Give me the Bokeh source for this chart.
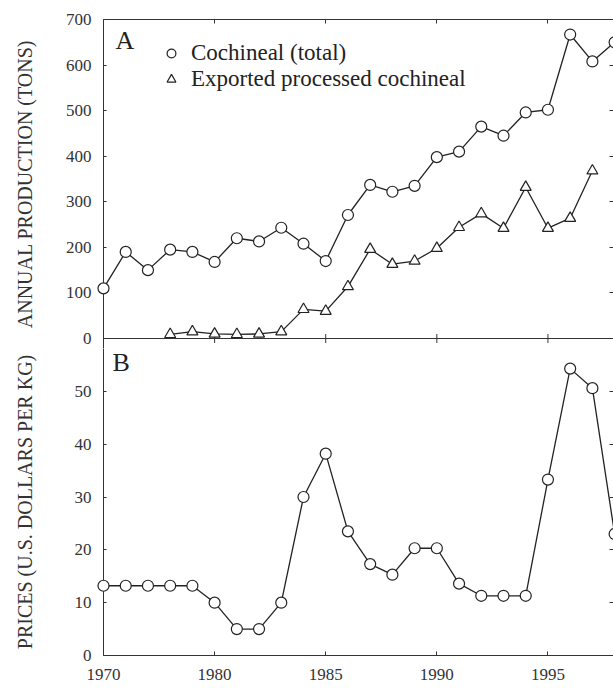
import math
from bokeh.plotting import figure
from bokeh.models import (LinearAxis, FixedTicker, Range1d, Legend, LegendItem,
                          Label, Span, ColumnDataSource)
from bokeh.layouts import column
from bokeh.embed import file_html
from bokeh.resources import INLINE

# ---------------- data ----------------
years = [1970, 1972, 1974, 1976, 1978, 1980, 1981, 1982, 1983, 1984, 1985,
         1986, 1987, 1988, 1989, 1990, 1991, 1992, 1993, 1994, 1995, 1996,
         1997, 1998]
cochineal_total = [110, 190, 150, 195, 190, 168, 220, 213, 243, 208, 170,
                   271, 337, 322, 335, 398, 410, 465, 445, 496, 502, 667,
                   608, 650]
export_years = [1976, 1978, 1980, 1981, 1982, 1983, 1984, 1985, 1986, 1987,
                1988, 1989, 1990, 1991, 1992, 1993, 1994, 1995, 1996, 1997]
exported_processed = [9, 15, 10, 9, 10, 15, 64, 60, 114, 196, 163, 170, 198,
                      244, 274, 242, 332, 242, 264, 368]
prices = [13.2, 13.2, 13.2, 13.2, 13.2, 10, 5, 5, 10, 30, 38.2, 23.5, 17.3,
          15.3, 20.3, 20.3, 13.6, 11.3, 11.3, 11.3, 33.3, 54.3, 50.6, 23]
tick_years = [1970, 1980, 1985, 1990, 1995]
prod_ticks = [0, 100, 200, 300, 400, 500, 600, 700]
price_ticks = [0, 10, 20, 30, 40, 50]


# the original time axis is compressed before 1980 (biennial data)
def tpos(y):
    return (y - 1970) // 2 if y <= 1980 else y - 1975


FONT = "Liberation Serif"
INK = "#222222"
AX = "#333333"

# layout (pixels)
W, H = 613, 688
LEFT = 103
TOP_A = 19
A_PX = 319          # 0..700 tons
B_PX = 317          # 0..60 dollars
GAP = 10            # panel A canvas runs GAP px below its zero line
H1 = TOP_A + A_PX + GAP
H2 = H - H1
BOTTOM = 33
B_FRAME = H2 - BOTTOM

src_tot = ColumnDataSource(dict(x=[tpos(y) for y in years], y=cochineal_total))
src_exp = ColumnDataSource(dict(x=[tpos(y) for y in export_years], y=exported_processed))
src_pr = ColumnDataSource(dict(x=[tpos(y) for y in years], y=prices))

xticks = [tpos(y) for y in tick_years]
xlabels = {tpos(y): str(y) for y in tick_years}
XEND = 22.95
xr = Range1d(0, XEND)
px_per_x = (W - LEFT) / XEND


def style_axis(ax, labels=True, line=True, tick_in=4):
    ax.major_tick_in = tick_in
    ax.major_tick_out = 0
    ax.minor_tick_line_color = None
    ax.major_tick_line_color = AX
    ax.major_tick_line_width = 1
    ax.axis_line_color = AX if line else None
    ax.axis_line_width = 1
    ax.axis_label_text_font = FONT
    ax.axis_label_text_font_style = "normal"
    ax.axis_label_text_font_size = "20px"
    ax.axis_label_text_color = AX
    if labels:
        ax.major_label_text_font = FONT
        ax.major_label_text_font_size = "17px"
        ax.major_label_text_color = AX
    else:
        ax.major_label_text_font_size = "0px"
        ax.major_label_text_color = None
        ax.major_label_standoff = 0


def make_fig(height, yr, top_border, bottom_border):
    p = figure(width=W, height=height, x_range=xr, y_range=yr,
               output_backend="svg", toolbar_location=None,
               x_axis_location=None, y_axis_location=None,
               min_border_left=LEFT, min_border_right=0,
               min_border_top=top_border, min_border_bottom=bottom_border)
    p.outline_line_color = None
    p.grid.visible = False
    p.background_fill_color = "white"
    p.border_fill_color = "white"
    return p


# ---------------- panel A ----------------
a_per_px = 700 / A_PX
p1 = make_fig(H1, Range1d(-GAP * a_per_px, 700), TOP_A, 0)

ax = LinearAxis(ticker=FixedTicker(ticks=prod_ticks), axis_label="ANNUAL PRODUCTION (TONS)")
style_axis(ax, tick_in=3)
ax.major_label_standoff = 12
ax.axis_label_standoff = 27
p1.add_layout(ax, "left")

ax = LinearAxis(ticker=FixedTicker(ticks=prod_ticks))
style_axis(ax, labels=False, line=False, tick_in=4)
p1.add_layout(ax, "right")

ax = LinearAxis(ticker=FixedTicker(ticks=xticks))
style_axis(ax, labels=False, tick_in=4)
p1.add_layout(ax, "above")

# shared border line between the panels, with crossing ticks
p1.add_layout(Span(location=0, dimension="width", line_color=AX, line_width=1))
p1.scatter(x=xticks, y=[0] * len(xticks), marker="dash", angle=math.pi / 2,
           size=9, line_color=AX, line_width=1, level="overlay")

p1.line("x", "y", source=src_tot, line_color=INK, line_width=1.3, level="overlay")
p1.line("x", "y", source=src_exp, line_color=INK, line_width=1.3, level="overlay")
r_tot = p1.scatter("x", "y", source=src_tot, marker="circle", size=11,
                   fill_color="white", line_color=INK, line_width=1.2, level="overlay")
r_exp = p1.scatter("x", "y", source=src_exp, marker="triangle", size=11,
                   fill_color="white", line_color=INK, line_width=1.2, level="overlay")

legend = Legend(items=[LegendItem(label="Cochineal (total)", renderers=[r_tot]),
                       LegendItem(label="Exported processed cochineal", renderers=[r_exp])],
                location=(57, A_PX + GAP - 73), orientation="vertical",
                border_line_color=None, background_fill_alpha=0,
                padding=0, margin=0, spacing=0,
                glyph_width=22, glyph_height=22, label_height=26,
                label_standoff=9, label_text_font=FONT,
                label_text_font_size="23px", label_text_color=INK)
p1.add_layout(legend)

p1.add_layout(Label(x=12 / px_per_x, y=700 - 21 * a_per_px, text="A", text_font=FONT,
                    text_font_size="26px", text_color=INK, text_baseline="alphabetic"))

# ---------------- panel B ----------------
b_per_px = 60 / B_PX
p2 = make_fig(H2, Range1d(0, B_FRAME * b_per_px), 0, BOTTOM)

ax = LinearAxis(ticker=FixedTicker(ticks=price_ticks), axis_label="PRICES (U.S. DOLLARS PER KG)")
style_axis(ax, tick_in=3)
ax.major_label_standoff = 12
ax.axis_label_standoff = 36
p2.add_layout(ax, "left")

ax = LinearAxis(ticker=FixedTicker(ticks=price_ticks))
style_axis(ax, labels=False, line=False, tick_in=4)
p2.add_layout(ax, "right")

ax = LinearAxis(ticker=FixedTicker(ticks=xticks), major_label_overrides=xlabels)
style_axis(ax, tick_in=4)
ax.major_label_standoff = 13
p2.add_layout(ax, "below")

p2.line("x", "y", source=src_pr, line_color=INK, line_width=1.3, level="overlay")
p2.scatter("x", "y", source=src_pr, marker="circle", size=11,
           fill_color="white", line_color=INK, line_width=1.2, level="overlay")

p2.add_layout(Label(x=9 / px_per_x, y=(655 - 362) * b_per_px, text="B", text_font=FONT,
                    text_font_size="26px", text_color=INK, text_baseline="alphabetic"))

layout = column(p1, p2, spacing=0)

with open("out.html", "w") as f:
    f.write(file_html(layout, INLINE))
